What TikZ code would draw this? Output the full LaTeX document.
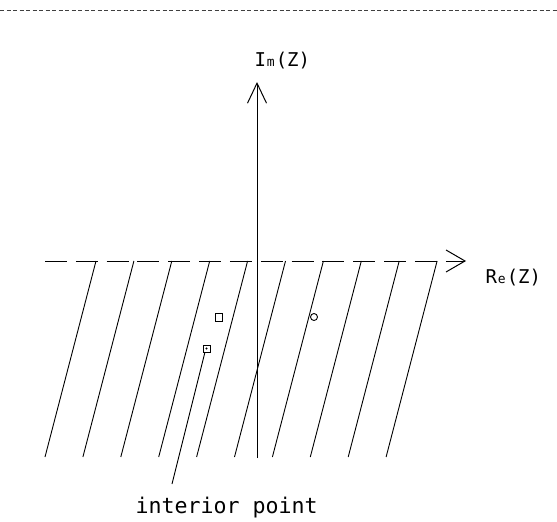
\documentclass[tikz,border=0pt]{standalone}
\usepackage{fontspec}
\setmonofont{DejaVu Sans Mono}
\usetikzlibrary{arrows.meta}
\begin{document}
\begin{tikzpicture}[x=1pt,y=-1pt,line width=1pt,
  hatch/.style={line width=0.9pt},
  vaxis/.style={line width=1pt,-{Straight Barb[length=20pt,width=19pt,line width=1pt]}},
  haxis/.style={line width=1pt,dash pattern=on 22pt off 8.83pt,-{Straight Barb[length=19pt,width=22pt,line width=1pt]}},
  lbl/.style={font=\ttfamily\fontsize{19}{19}\selectfont,inner sep=0pt,anchor=base west},
  txt/.style={font=\ttfamily\fontsize{21.6}{22}\selectfont,inner sep=0pt,anchor=base west},
  ptmark/.style={line width=0.9pt}]
\useasboundingbox (0,0) rectangle (557,522);
\fill[white] (0,0) rectangle (557,522);
% top dashed rule
\draw[line width=0.8pt,black!75,dash pattern=on 4pt off 2.5pt] (0,10) -- (557,10);
% hatch lines
\foreach \k in {0,...,9}{
  \draw[hatch] ({96+37.9*\k},261) -- ({45+37.9*\k},457);
}
% axes
\coordinate (hs) at (45,261);
\coordinate (he) at (466,261);
\coordinate (vs) at (257,458);
\coordinate (ve) at (257,82);
\draw[haxis] (hs) -- (he);
\draw[vaxis] (vs) -- (ve);
% labels
\node[lbl] (im) at (254,66) {I\kern1pt{\fontsize{13}{13}\selectfont m}\kern1pt(Z)};
\node[lbl] (re) at (485,283) {R\kern1pt{\fontsize{13}{13}\selectfont e}\kern1pt(Z)};
% markers
\draw[ptmark] (215,313) rectangle (222,321);
\draw[ptmark] (314,317) circle (3.5);
\draw[ptmark] (203.5,345) rectangle (210.5,352);
\fill (206.5,348.5) circle (1.2);
% pointer
\coordinate (ip) at (205,352);
\coordinate (pe) at (172,484);
\draw[hatch] (ip) -- (pe);
\node[txt] (ipt) at (135,513) {interior point};
\end{tikzpicture}
\end{document}
